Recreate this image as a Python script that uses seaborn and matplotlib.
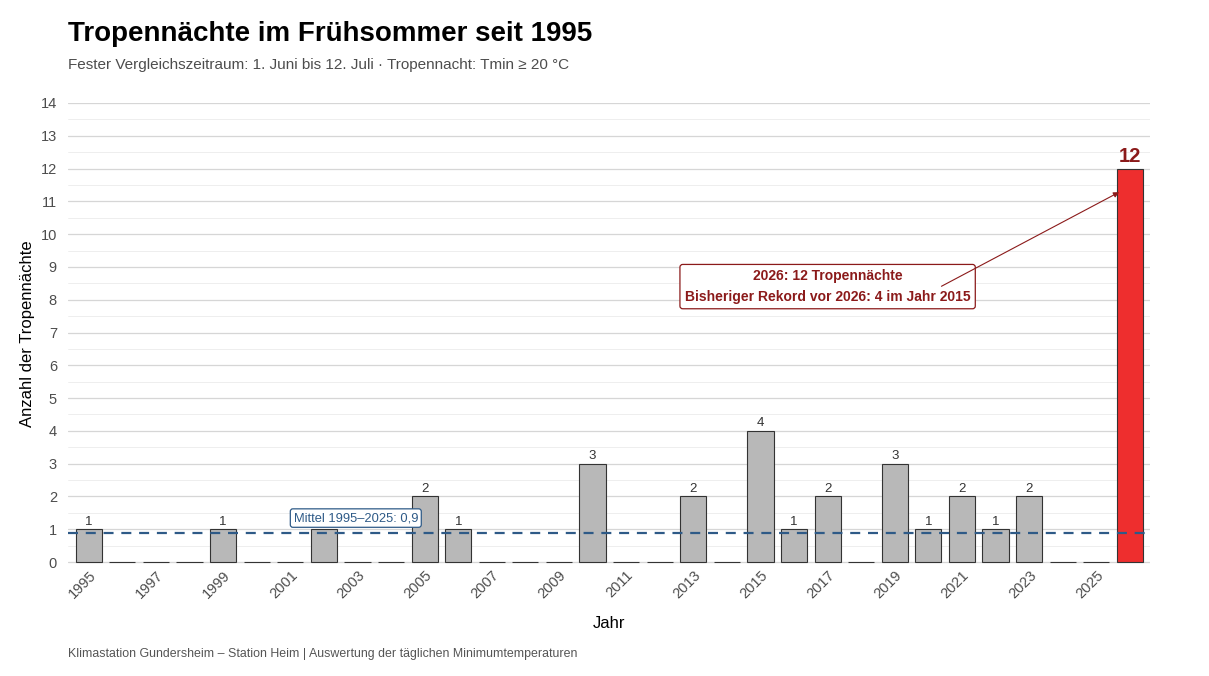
import numpy as np
import pandas as pd
import matplotlib
matplotlib.use("Agg")
import matplotlib.pyplot as plt
import matplotlib.transforms as mtransforms
import seaborn as sns
from matplotlib.ticker import MultipleLocator

# Daten: Tropennächte (Tmin >= 20 °C) zwischen 1. Juni und 12. Juli
jahre = list(range(1995, 2027))
naechte = [1, 0, 0, 0, 1, 0, 0, 1, 0, 0, 2, 1, 0, 0, 0, 3,
           0, 0, 2, 0, 4, 1, 2, 0, 3, 1, 2, 1, 2, 0, 0, 12]
tick_jahre = list(range(1995, 2026, 2))

df = pd.DataFrame({"jahr": jahre, "anzahl": naechte})
df["gruppe"] = np.where(df["jahr"] == 2026, "aktuell", "frueher")
mittel = df.loc[df["jahr"] <= 2025, "anzahl"].mean()

rot_dunkel = "#8B1A1A"
blau = "#2E5A87"

sns.set_style("white")
plt.rcParams["font.family"] = ["Liberation Sans", "DejaVu Sans"]

# y-Achse etwas unter 0 beginnen, damit die Null-Linie nicht abgeschnitten wird
y_unten = -0.06
px_pro_einheit = (562 - 103) / 14
unten_px = 562 + (-y_unten) * px_pro_einheit

fig = plt.figure(figsize=(12.09, 6.76), dpi=100)
ax = fig.add_axes([68 / 1209, 1 - unten_px / 676, (1150 - 68) / 1209, (unten_px - 103) / 676])

sns.barplot(data=df, x="jahr", y="anzahl", hue="gruppe", native_scale=True,
            palette={"frueher": "#B8B8B8", "aktuell": "#EE2E2E"}, saturation=1,
            edgecolor="#333333", linewidth=0.8, width=0.78, legend=False,
            ax=ax, zorder=2)

ax.set_xlim(1994.38, 2026.6)
ax.set_ylim(y_unten, 14)
ax.yaxis.set_major_locator(MultipleLocator(1))
ax.yaxis.set_minor_locator(MultipleLocator(0.5))
ax.grid(axis="y", which="major", color="#d6d6d6", linewidth=0.9, zorder=0)
ax.grid(axis="y", which="minor", color="#ebebeb", linewidth=0.6, zorder=0)
ax.grid(axis="x", visible=False)
ax.set_axisbelow(True)
sns.despine(ax=ax, left=True, bottom=True)

ax.set_xticks(tick_jahre)
ax.set_xticklabels([str(j) for j in tick_jahre], rotation=45, ha="right",
                   rotation_mode="anchor", fontsize=10.5, color="#4d4d4d")
verschub = mtransforms.ScaledTranslation(5 / 100, 2 / 100, fig.dpi_scale_trans)
for lab in ax.get_xticklabels():
    lab.set_transform(lab.get_transform() + verschub)
ax.tick_params(axis="x", length=0, pad=3)
ax.tick_params(axis="y", length=0, pad=8, labelsize=10.5, labelcolor="#4d4d4d")

ax.set_xlabel("Jahr", fontsize=12, color="black", labelpad=11)
ax.set_ylabel("Anzahl der Tropennächte", fontsize=12, color="black", labelpad=4)

# Werte über den Balken
for j, n in zip(jahre, naechte):
    if n == 0:
        continue
    if j == 2026:
        ax.text(j, n + 0.08, str(n), ha="center", va="bottom", fontsize=14.5,
                fontweight="bold", color=rot_dunkel, zorder=4)
    else:
        ax.text(j, n + 0.05, str(n), ha="center", va="bottom", fontsize=9.5,
                color="#333333", zorder=3)

# Mittelwertlinie
ax.axhline(mittel, color=blau, linestyle=(0, (4.5, 3.5)), linewidth=1.6, zorder=3)
ax.text(2002.95, 1.34, "Mittel 1995–2025: " + f"{mittel:.1f}".replace(".", ","),
        ha="center", va="center", fontsize=9.3, color=blau, zorder=5,
        bbox=dict(boxstyle="round,pad=0.25,rounding_size=0.2", fc="white",
                  ec=blau, lw=0.9))

# Rekord-Annotation
ax.annotate("", xy=(2025.68, 11.28), xytext=(2020.39, 8.41),
            arrowprops=dict(arrowstyle="-|>", color=rot_dunkel, lw=0.8,
                            mutation_scale=8, shrinkA=0, shrinkB=0), zorder=6)
ax.text(2017.0, 8.4, "2026: 12 Tropennächte\nBisheriger Rekord vor 2026: 4 im Jahr 2015",
        ha="center", va="center", fontsize=10, fontweight="bold", color=rot_dunkel,
        linespacing=1.6, zorder=5,
        bbox=dict(boxstyle="round,pad=0.35,rounding_size=0.2", fc="white",
                  ec=rot_dunkel, lw=0.9))

fig.text(68 / 1209, 1 - 34 / 676, "Tropennächte im Frühsommer seit 1995",
         ha="left", va="center", fontsize=20, fontweight="bold", color="black")
fig.text(68 / 1209, 1 - 65 / 676,
         "Fester Vergleichszeitraum: 1. Juni bis 12. Juli · Tropennacht: Tmin ≥ 20 °C",
         ha="left", va="center", fontsize=11, color="#4d4d4d")
fig.text(68 / 1209, 1 - 654 / 676,
         "Klimastation Gundersheim – Station Heim | Auswertung der täglichen Minimumtemperaturen",
         ha="left", va="center", fontsize=8.9, color="#555555")

fig.savefig("out.png", dpi=100, facecolor="white")
